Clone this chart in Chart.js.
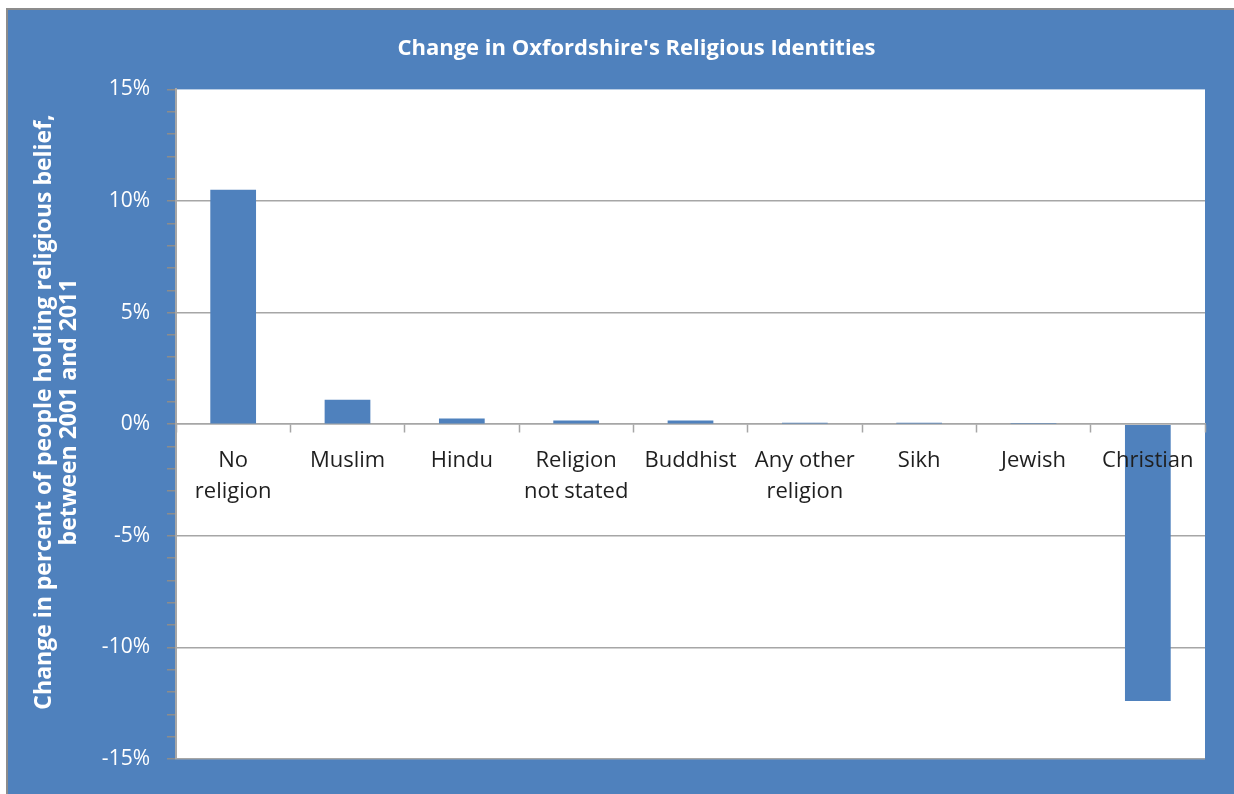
<!DOCTYPE html>
<html>
<head>
<meta charset="utf-8">
<script src="https://cdn.jsdelivr.net/npm/chart.js@4.4.1/dist/chart.umd.min.js"></script>
<style>
    html, body { margin: 0; padding: 0; background: #fff; overflow: hidden; }
    .chart-frame {
        position: absolute;
        left: 6px; top: 8px;
        width: 1228px; height: 786px;
        background: #4f81bd;
        border-top: 2px solid #8c8c8c;
        border-left: 2px solid #8c8c8c;
    }
    .chart-frame canvas { position: absolute; left: 0; top: 0; }
</style>
</head>
<body>
<div class="chart-frame">
    <canvas id="religionChart" width="1226" height="784"></canvas>
</div>
<script>
// categories and values (percentage points, 2001 -> 2011)
const religions = [
    ['No', 'religion'], 'Muslim', 'Hindu', ['Religion', 'not stated'], 'Buddhist',
    ['Any other', 'religion'], 'Sikh', 'Jewish', 'Christian'
];
const changePercent = [10.5, 1.1, 0.26, 0.17, 0.17, 0.06, 0.06, 0.01, -12.4];
const majorTicks = [-15, -10, -5, 0, 5, 10, 15];
const chartTitle = "Change in Oxfordshire's Religious Identities";
const yTitleLines = ['Change in percent of people holding religious belief,', 'between 2001 and 2011'];

const FONT = '"Open Sans", Lato, sans-serif';
const GRID_GREY = '#a6a6a6';

// white plot area on the blue frame
const plotAreaPlugin = {
    id: 'plotArea',
    beforeDraw(chart) {
        const a = chart.chartArea;
        const ctx = chart.ctx;
        ctx.save();
        ctx.fillStyle = '#ffffff';
        ctx.fillRect(a.left, a.top, a.right - a.left, a.bottom - a.top);
        ctx.restore();
    }
};

// y axis title is centred on the whole frame, not on the plot area, so draw it here
const yTitlePlugin = {
    id: 'yTitle',
    afterDraw(chart) {
        const ctx = chart.ctx;
        ctx.save();
        ctx.translate(0, 402);
        ctx.rotate(-Math.PI / 2);
        ctx.fillStyle = '#ffffff';
        ctx.font = 'bold 23px ' + FONT;
        ctx.textAlign = 'center';
        ctx.textBaseline = 'middle';
        ctx.fillText(yTitleLines[0], 0, 36);
        ctx.fillText(yTitleLines[1], 0, 61);
        ctx.restore();
    }
};

new Chart(document.getElementById('religionChart'), {
    type: 'bar',
    data: {
        labels: religions,
        datasets: [{
            data: changePercent,
            backgroundColor: '#4f81bd',
            borderWidth: 0,
            barPercentage: 0.4,
            categoryPercentage: 1.0
        }]
    },
    options: {
        responsive: false,
        animation: false,
        layout: { padding: { left: 60, right: 29, bottom: 35, top: 0 } },
        plugins: {
            legend: { display: false },
            tooltip: { enabled: false },
            title: {
                display: true,
                text: chartTitle,
                color: '#ffffff',
                font: { family: FONT, size: 22, weight: 'bold', lineHeight: 1.2 },
                padding: { top: 26, bottom: 27 }
            }
        },
        scales: {
            x: {
                position: { y: 0 },
                grid: {
                    offset: true,
                    drawOnChartArea: false,
                    tickLength: 8,
                    tickColor: GRID_GREY,
                    tickWidth: 1.5
                },
                border: { color: GRID_GREY, width: 1.5 },
                ticks: {
                    z: 1,
                    color: '#1f1f1f',
                    padding: 13,
                    maxRotation: 0,
                    autoSkip: false,
                    font: { family: FONT, size: 22, lineHeight: 1.41 }
                }
            },
            y: {
                min: -15,
                max: 15,
                afterFit(scale) { scale.width = 108; },
                grid: {
                    color: ctx => (ctx.tick && majorTicks.includes(ctx.tick.value) && ctx.tick.value !== 15) ? GRID_GREY : 'rgba(0,0,0,0)',
                    lineWidth: 1.5,
                    tickLength: 9,
                    tickColor: '#8c8c8c',
                    tickWidth: 1.5
                },
                border: { color: GRID_GREY, width: 2 },
                ticks: {
                    stepSize: 1,
                    autoSkip: false,
                    padding: 17,
                    color: '#ffffff',
                    font: { family: FONT, size: 21 },
                    callback: v => majorTicks.includes(v) ? v + '%' : ''
                }
            }
        }
    },
    plugins: [plotAreaPlugin, yTitlePlugin]
});
</script>
</body>
</html>
